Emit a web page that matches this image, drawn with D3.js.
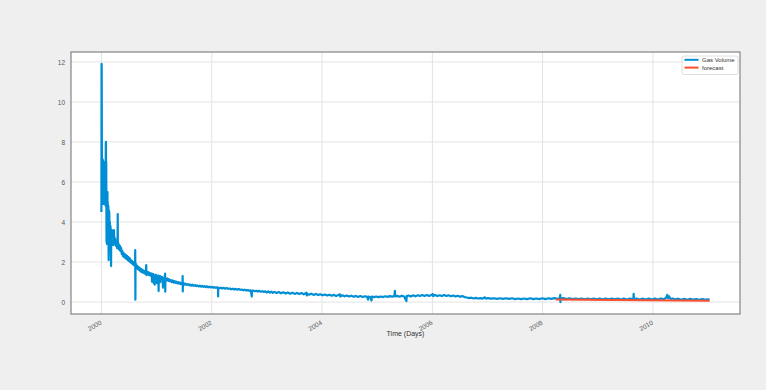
<!DOCTYPE html>
<html>
<head>
<meta charset="utf-8">
<script src="https://cdn.jsdelivr.net/npm/d3@7"></script>
<style>
  html, body { margin: 0; padding: 0; background: #efefef; }
  svg { display: block; }
  text { font-family: "Liberation Sans", Arial, sans-serif; }
</style>
</head>
<body>
<svg id="chart" width="766" height="390"></svg>
<script>
// Daily gas volume, sampled: day offsets from the first production day.
const startDate = "2000-01-01";

const dayOffsets = [
  0, 1, 2, 3, 4, 5, 6, 7, 8, 9,
  10, 11, 12, 13, 14, 15, 16, 17, 18, 19,
  20, 22, 24, 26, 28, 29, 30, 31, 32, 33,
  34, 35, 36, 37, 38, 39, 40, 41, 42, 43,
  44, 46, 48, 49, 50, 52, 54, 56, 58, 60,
  62, 64, 65, 67, 69, 71, 73, 75, 78, 81,
  83, 86, 89, 92, 95, 98, 101, 104, 107, 108,
  109, 112, 115, 118, 121, 124, 127, 131, 135, 139,
  143, 147, 151, 155, 159, 163, 167, 171, 175, 179,
  183, 187, 191, 195, 199, 203, 207, 211, 215, 219,
  223, 224, 225, 226, 230, 234, 238, 242, 246, 250,
  254, 258, 262, 266, 270, 274, 278, 282, 286, 290,
  294, 297, 298, 301, 305, 309, 313, 317, 321, 325,
  329, 333, 335, 336, 340, 344, 346, 347, 351, 353,
  354, 358, 362, 366, 368, 369, 373, 377, 379, 380,
  384, 388, 390, 391, 396, 400, 405, 408, 409, 414,
  418, 422, 423, 424, 430, 436, 442, 448, 454, 460,
  466, 472, 478, 484, 490, 496, 502, 508, 514, 520,
  526, 532, 537, 538, 539, 540, 546, 552, 558, 564,
  572, 580, 588, 596, 604, 612, 620, 628, 636, 644,
  652, 660, 668, 676, 684, 692, 700, 708, 716, 724,
  732, 740, 748, 756, 764, 772, 773, 774, 782, 790,
  800, 810, 820, 830, 840, 850, 860, 870, 880, 890,
  900, 910, 920, 930, 940, 950, 960, 970, 980, 990,
  996, 997, 1005, 1015, 1025, 1035, 1045, 1055, 1065, 1075,
  1085, 1095, 1105, 1115, 1125, 1135, 1145, 1160, 1175, 1190,
  1205, 1220, 1235, 1250, 1265, 1280, 1295, 1310, 1325, 1340,
  1350, 1358, 1360, 1362, 1375, 1390, 1405, 1420, 1435, 1450,
  1465, 1480, 1495, 1510, 1525, 1540, 1555, 1570, 1580, 1582,
  1595, 1610, 1625, 1640, 1655, 1670, 1685, 1700, 1715, 1730,
  1745, 1760, 1766, 1768, 1780, 1789, 1791, 1805, 1820, 1835,
  1850, 1865, 1880, 1895, 1910, 1925, 1940, 1944, 1946, 1960,
  1975, 1990, 2005, 2020, 2022, 2035, 2050, 2065, 2080, 2095,
  2110, 2125, 2140, 2155, 2170, 2185, 2195, 2197, 2210, 2225,
  2240, 2255, 2270, 2285, 2300, 2315, 2330, 2345, 2360, 2375,
  2390, 2405, 2420, 2435, 2450, 2465, 2480, 2495, 2510, 2525,
  2540, 2545, 2560, 2580, 2600, 2620, 2640, 2660, 2680, 2700,
  2720, 2740, 2760, 2780, 2800, 2820, 2840, 2860, 2880, 2900,
  2920, 2940, 2960, 2980, 3000, 3020, 3035, 3039, 3040, 3042,
  3060, 3080, 3100, 3120, 3140, 3160, 3180, 3200, 3220, 3240,
  3260, 3280, 3300, 3320, 3340, 3360, 3380, 3400, 3420, 3440,
  3460, 3480, 3500, 3523, 3525, 3527, 3545, 3565, 3585, 3605,
  3625, 3645, 3665, 3685, 3705, 3725, 3740, 3748, 3752, 3760,
  3770, 3785, 3800, 3820, 3840, 3860, 3880, 3900, 3920, 3940,
  3960, 3980, 4000, 4015, 4028
];

const gasVolume = [
  4.5, 11.9, 11.8, 8.1, 4.9, 7.2, 5.0, 6.4, 4.9, 6.9,
  5.0, 7.1, 4.9, 5.6, 4.9, 6.3, 5.0, 5.5, 7.0, 5.1,
  4.9, 6.0, 5.0, 5.8, 4.8, 7.9, 8.0, 6.5, 7.0, 4.8,
  3.0, 5.5, 5.2, 2.9, 5.0, 4.2, 5.5, 3.5, 5.0, 4.6,
  3.6, 4.8, 2.1, 4.6, 3.8, 4.5, 3.4, 4.0, 3.2, 3.8,
  3.5, 1.8, 3.4, 3.0, 3.6, 2.85, 3.4, 3.1, 3.3, 2.85,
  3.6, 2.9, 3.2, 2.9, 3.1, 2.8, 3.0, 2.7, 3.1, 4.4,
  2.8, 2.95, 2.65, 2.85, 2.6, 2.8, 2.55, 2.7, 2.4, 2.55,
  2.3, 2.45, 2.25, 2.4, 2.2, 2.35, 2.15, 2.3, 2.1, 2.25,
  2.05, 2.2, 2.0, 2.1, 1.95, 2.05, 1.9, 2.0, 1.85, 1.95,
  1.8, 2.6, 0.12, 1.75, 1.9, 1.7, 1.8, 1.65, 1.75, 1.6,
  1.7, 1.55, 1.65, 1.5, 1.62, 1.48, 1.58, 1.45, 1.55, 1.42,
  1.52, 1.85, 1.35, 1.48, 1.4, 1.5, 1.36, 1.46, 1.34, 1.44,
  1.32, 1.42, 1.02, 1.38, 1.3, 1.4, 0.95, 1.35, 1.28, 0.87,
  1.32, 1.26, 1.36, 1.24, 0.95, 1.3, 1.22, 1.32, 0.55, 1.25,
  1.2, 1.3, 1.0, 1.22, 1.16, 1.26, 1.14, 0.72, 1.2, 1.12,
  1.22, 1.42, 0.52, 1.15, 1.1, 1.18, 1.06, 1.14, 1.04, 1.1,
  1.0, 1.08, 0.97, 1.05, 0.96, 1.02, 0.94, 1.0, 0.92, 0.98,
  0.9, 0.96, 0.89, 1.3, 0.53, 0.9, 0.94, 0.87, 0.92, 0.86,
  0.9, 0.84, 0.88, 0.82, 0.87, 0.81, 0.85, 0.8, 0.83, 0.78,
  0.82, 0.77, 0.81, 0.76, 0.8, 0.75, 0.79, 0.74, 0.77, 0.73,
  0.76, 0.72, 0.75, 0.71, 0.74, 0.7, 0.28, 0.72, 0.69, 0.72,
  0.68, 0.71, 0.67, 0.7, 0.66, 0.68, 0.64, 0.67, 0.63, 0.66,
  0.62, 0.65, 0.61, 0.63, 0.59, 0.62, 0.58, 0.6, 0.56, 0.59,
  0.28, 0.56, 0.58, 0.54, 0.57, 0.53, 0.56, 0.52, 0.54, 0.51,
  0.54, 0.48, 0.53, 0.47, 0.52, 0.46, 0.51, 0.45, 0.5, 0.44,
  0.49, 0.43, 0.48, 0.42, 0.47, 0.41, 0.46, 0.4, 0.45, 0.39,
  0.43, 0.47, 0.33, 0.41, 0.37, 0.42, 0.36, 0.41, 0.35, 0.39,
  0.34, 0.38, 0.33, 0.37, 0.32, 0.36, 0.31, 0.35, 0.39, 0.28,
  0.34, 0.29, 0.33, 0.28, 0.32, 0.27, 0.31, 0.26, 0.3, 0.25,
  0.29, 0.26, 0.12, 0.28, 0.25, 0.08, 0.28, 0.25, 0.28, 0.25,
  0.28, 0.25, 0.29, 0.26, 0.3, 0.27, 0.31, 0.56, 0.28, 0.31,
  0.27, 0.32, 0.28, 0.05, 0.3, 0.33, 0.28, 0.34, 0.29, 0.34,
  0.3, 0.35, 0.3, 0.35, 0.31, 0.36, 0.4, 0.3, 0.35, 0.3,
  0.34, 0.3, 0.35, 0.3, 0.34, 0.29, 0.33, 0.28, 0.32, 0.27,
  0.3, 0.25, 0.23, 0.2, 0.22, 0.18, 0.21, 0.18, 0.2, 0.17,
  0.24, 0.18, 0.2, 0.17, 0.19, 0.16, 0.19, 0.16, 0.19, 0.16,
  0.19, 0.15, 0.18, 0.15, 0.18, 0.15, 0.19, 0.15, 0.18, 0.15,
  0.19, 0.15, 0.19, 0.16, 0.2, 0.16, 0.19, 0.36, 0.0, 0.17,
  0.2, 0.15, 0.19, 0.15, 0.18, 0.15, 0.18, 0.14, 0.18, 0.14,
  0.18, 0.14, 0.18, 0.14, 0.17, 0.14, 0.17, 0.14, 0.17, 0.13,
  0.17, 0.13, 0.17, 0.14, 0.41, 0.15, 0.17, 0.13, 0.17, 0.13,
  0.17, 0.13, 0.17, 0.13, 0.18, 0.14, 0.22, 0.36, 0.2, 0.28,
  0.15, 0.18, 0.13, 0.17, 0.12, 0.16, 0.12, 0.16, 0.12, 0.15,
  0.11, 0.15, 0.11, 0.14, 0.12
];

// Forecast over the last part of the record
const forecastDays = [3009, 3200, 3400, 3600, 3800, 4028];
const forecastVolume = [0.125, 0.115, 0.105, 0.095, 0.082, 0.07];

const yTicks = [0, 2, 4, 6, 8, 10, 12];
const seriesNames = ["Gas Volume", "forecast"];
const seriesColors = ["#008fd5", "#fc4f30"];
const xLabel = "Time (Days)";

// ---------------------------------------------------------------
const DAY = 86400000;
const t0 = new Date(startDate + "T00:00:00Z").getTime();
const toDate = d => new Date(t0 + d * DAY);

const gasData = dayOffsets.map((d, i) => ({ date: toDate(d), value: gasVolume[i] }));
const fcData = forecastDays.map((d, i) => ({ date: toDate(d), value: forecastVolume[i] }));

const plot = { left: 71, right: 740, top: 52, bottom: 314 };

// 5% padding on both axes around the data extent
const dExt = d3.extent(dayOffsets);
const dPad = (dExt[1] - dExt[0]) * 0.05;
const x = d3.scaleUtc()
  .domain([toDate(dExt[0] - dPad), toDate(dExt[1] + dPad)])
  .range([plot.left, plot.right]);

const vExt = d3.extent(gasVolume);
const vPad = (vExt[1] - vExt[0]) * 0.05;
const y = d3.scaleLinear()
  .domain([vExt[0] - vPad, vExt[1] + vPad])
  .range([plot.bottom, plot.top]);

const svg = d3.select("#chart");

svg.append("rect")
  .attr("x", 0).attr("y", 0).attr("width", 766).attr("height", 390)
  .attr("fill", "#efefef");

svg.append("rect")
  .attr("x", plot.left).attr("y", plot.top)
  .attr("width", plot.right - plot.left).attr("height", plot.bottom - plot.top)
  .attr("fill", "#ffffff");

// Grid
const xTickVals = x.ticks(d3.utcYear.every(2));
const grid = svg.append("g");
grid.selectAll("line.gx").data(xTickVals).join("line")
  .attr("x1", d => x(d)).attr("x2", d => x(d))
  .attr("y1", plot.top).attr("y2", plot.bottom)
  .attr("stroke", "#e3e3e3").attr("stroke-width", 1);
grid.selectAll("line.gy").data(yTicks).join("line")
  .attr("x1", plot.left).attr("x2", plot.right)
  .attr("y1", d => y(d)).attr("y2", d => y(d))
  .attr("stroke", "#e3e3e3").attr("stroke-width", 1);

// Series
const line = d3.line().x(d => x(d.date)).y(d => y(d.value));
svg.append("path").datum(gasData)
  .attr("d", line).attr("fill", "none")
  .attr("stroke", seriesColors[0]).attr("stroke-width", 2.2)
  .attr("stroke-linejoin", "round");
svg.append("path").datum(fcData)
  .attr("d", line).attr("fill", "none")
  .attr("stroke", seriesColors[1]).attr("stroke-width", 2);

// Axes
const xAxis = d3.axisBottom(x).tickValues(xTickVals)
  .tickFormat(d3.utcFormat("%Y")).tickSize(0).tickPadding(0);
const gx = svg.append("g").attr("transform", `translate(0,${plot.bottom})`).call(xAxis);
gx.select(".domain").remove();
gx.selectAll(".tick text")
  .attr("font-size", 6.5).attr("fill", "#555")
  .attr("text-anchor", "end")
  .attr("x", 0).attr("y", 0).attr("dy", "0.35em")
  .attr("transform", "translate(-1,8) rotate(-30)");

const yAxis = d3.axisLeft(y).tickValues(yTicks).tickSize(0).tickPadding(6);
const gy = svg.append("g").attr("transform", `translate(${plot.left},0)`).call(yAxis);
gy.select(".domain").remove();
gy.selectAll("text").attr("font-size", 6.5).attr("fill", "#555");

// Frame
svg.append("rect")
  .attr("x", plot.left).attr("y", plot.top)
  .attr("width", plot.right - plot.left).attr("height", plot.bottom - plot.top)
  .attr("fill", "none").attr("stroke", "#7a7a7a").attr("stroke-width", 1.1);

// Axis label
svg.append("text")
  .attr("x", (plot.left + plot.right) / 2).attr("y", 336)
  .attr("text-anchor", "middle").attr("font-size", 7).attr("fill", "#333")
  .text(xLabel);

// Legend
const lg = svg.append("g").attr("transform", "translate(682,56)");
lg.append("rect")
  .attr("width", 56).attr("height", 18.5).attr("rx", 2)
  .attr("fill", "#ffffff").attr("stroke", "#d5d5d5").attr("stroke-width", 0.8);
seriesNames.forEach((name, i) => {
  const yy = 3.8 + i * 7.8;
  lg.append("line").attr("x1", 2.5).attr("x2", 16.5).attr("y1", yy).attr("y2", yy)
    .attr("stroke", seriesColors[i]).attr("stroke-width", 2);
  lg.append("text").attr("x", 20).attr("y", yy).attr("dy", "0.35em")
    .attr("font-size", 6).attr("fill", "#333").text(name);
});
</script>
</body>
</html>
